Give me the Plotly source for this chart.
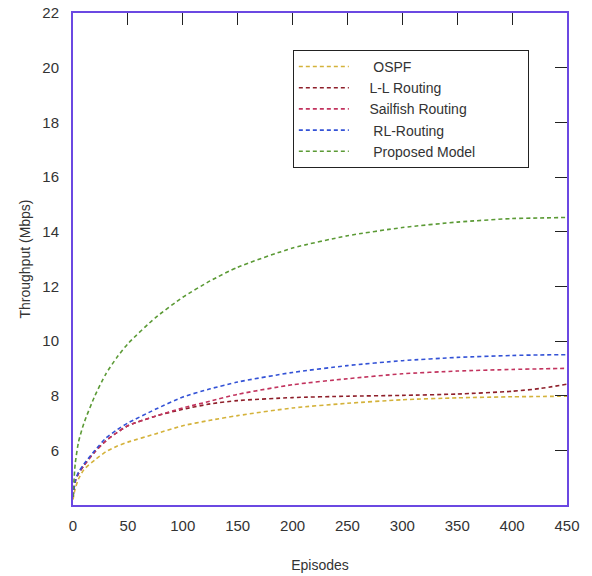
import plotly.graph_objects as go

episodes = [0, 2, 5, 10, 20, 30, 40, 50, 75, 100, 125, 150, 200, 250, 300, 350, 400, 425, 450]

ospf = [4.2, 4.6, 4.95, 5.3, 5.65, 5.95, 6.15, 6.3, 6.6, 6.9, 7.1, 7.27, 7.55, 7.72, 7.85, 7.92, 7.96, 7.97, 7.98]
ll_routing = [4.3, 4.85, 5.15, 5.45, 5.95, 6.35, 6.65, 6.9, 7.25, 7.5, 7.7, 7.82, 7.93, 7.98, 8.01, 8.06, 8.16, 8.26, 8.42]
sailfish = [4.3, 4.85, 5.15, 5.45, 5.95, 6.35, 6.65, 6.9, 7.25, 7.55, 7.8, 8.05, 8.4, 8.62, 8.8, 8.9, 8.96, 8.98, 9.0]
rl_routing = [4.3, 4.9, 5.2, 5.5, 6.0, 6.45, 6.75, 7.0, 7.5, 7.95, 8.25, 8.5, 8.85, 9.1, 9.28, 9.4, 9.47, 9.49, 9.5]
proposed = [4.3, 5.5, 6.3, 7.0, 8.0, 8.8, 9.4, 9.9, 10.85, 11.6, 12.2, 12.7, 13.4, 13.85, 14.15, 14.35, 14.48, 14.5, 14.52]

names = ["OSPF", "L-L Routing", "Sailfish Routing", "RL-Routing", "Proposed Model"]
legend_pad = ["\u00a0" * 5, "\u00a0" * 4, "\u00a0" * 4, "\u00a0" * 5, "\u00a0" * 5]
series = [ospf, ll_routing, sailfish, rl_routing, proposed]
colors = ["#d4b23a", "#8e1f2a", "#c2335e", "#3352d6", "#5b9a35"]

x_ticks = [0, 50, 100, 150, 200, 250, 300, 350, 400, 450]
y_ticks = [6, 8, 10, 12, 14, 16, 18, 20, 22]

fig = go.Figure()
for name, pad, vals, col in zip(names, legend_pad, series, colors):
    label = pad + name + ("\u00a0" * 12 if name == "Proposed Model" else "")
    fig.add_trace(go.Scatter(
        x=episodes, y=vals, name=label, mode="lines",
        line=dict(color=col, width=1.6, dash="4px,3px", shape="spline", smoothing=0.6),
    ))

# invisible trace to anchor mirrored axes (top & right ticks)
fig.add_trace(go.Scatter(x=[0], y=[4], xaxis="x2", yaxis="y2", mode="markers",
                         marker=dict(opacity=0), showlegend=False, hoverinfo="skip"))

axis_col = "#6b48e2"
font_col = "#333333"

fig.update_layout(
    width=592, height=576,
    margin=dict(l=73, r=25, t=13, b=71, autoexpand=False),
    paper_bgcolor="white", plot_bgcolor="white",
    font=dict(family="Arial, Liberation Sans, sans-serif", size=14, color=font_col),
    xaxis=dict(range=[0, 450], tickvals=x_ticks, showgrid=False, zeroline=False,
               showline=True, linecolor=axis_col, linewidth=2, ticks="",
               automargin=False, ticklabelstandoff=6,
               title=dict(text="Episodes", font=dict(size=14), standoff=27),
               tickfont=dict(size=15, color=font_col)),
    yaxis=dict(range=[4, 22], tickvals=y_ticks, showgrid=False, zeroline=False,
               showline=True, linecolor=axis_col, linewidth=2, ticks="",
               automargin=False, ticklabelstandoff=9,
               title=dict(text="Throughput (Mbps)", font=dict(size=14), standoff=8),
               tickfont=dict(size=15, color=font_col)),
    xaxis2=dict(range=[0, 450], overlaying="x", side="top", anchor="y",
                tickvals=[50, 100, 150, 200, 250, 300, 350, 400],
                ticks="inside", ticklen=12, tickwidth=1.3, tickcolor="#222",
                showticklabels=False, showgrid=False, zeroline=False, automargin=False,
                showline=True, linecolor=axis_col, linewidth=2),
    yaxis2=dict(range=[4, 22], overlaying="y", side="right", anchor="x",
                tickvals=[6, 8, 10, 12, 14, 16, 18, 20],
                ticks="inside", ticklen=12, tickwidth=1.3, tickcolor="#222",
                showticklabels=False, showgrid=False, zeroline=False, automargin=False,
                showline=True, linecolor=axis_col, linewidth=2),
    legend=dict(x=0.445, y=0.925, xanchor="left", yanchor="top",
                bordercolor="#222", borderwidth=1, bgcolor="white",
                font=dict(size=14, color=font_col), itemwidth=50,
                tracegroupgap=0),
    showlegend=True,
)

fig.write_html("out.html")
